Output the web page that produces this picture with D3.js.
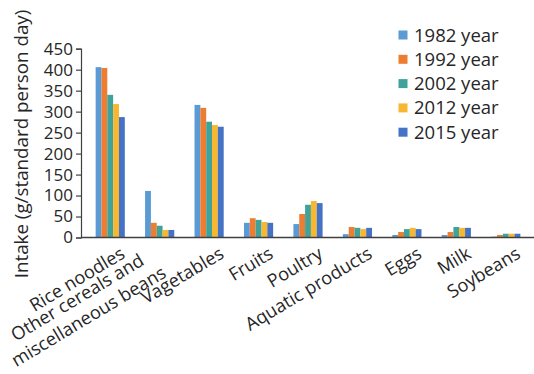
<!DOCTYPE html>
<html>
<head>
<meta charset="utf-8">
<script src="https://cdn.jsdelivr.net/npm/d3@7"></script>
<style>
  html, body { margin: 0; padding: 0; background: #fff; }
  svg { display: block; font-family: "Open Sans", sans-serif; }
</style>
</head>
<body>
<svg id="chart" width="534" height="374"></svg>
<script>
// Daily intake by food group across survey years
const categories = [
  "Rice noodles",
  "Other cereals and\nmiscellaneous beans",
  "Vagetables",
  "Fruits",
  "Poultry",
  "Aquatic products",
  "Eggs",
  "Milk",
  "Soybeans"
];
const years = ["1982 year", "1992 year", "2002 year", "2012 year", "2015 year"];
const v1982 = [406, 111, 316, 35, 32, 8, 6, 6, 2];
const v1992 = [404, 35, 309, 46, 56, 25, 13, 13, 6];
const v2002 = [340, 28, 276, 42, 78, 23, 20, 25, 9];
const v2012 = [318, 18, 268, 37, 87, 20, 23, 23, 9];
const v2015 = [287, 18, 264, 35, 82, 23, 20, 23, 9];
const yTicks = [0, 50, 100, 150, 200, 250, 300, 350, 400, 450];
const colors = ["#5B9BD5", "#ED7D31", "#3FA39B", "#F8B731", "#4472C4"];

const seriesValues = [v1982, v1992, v2002, v2012, v2015];
const rows = categories.map((c, i) => ({
  category: c,
  values: years.map((y, k) => ({ year: y, value: seriesValues[k][i] }))
}));

const svg = d3.select("#chart");
const textColor = "#262626";
const axisColor = "#404040";
const font = "'Open Sans', sans-serif";

const x0 = d3.scaleBand().domain(categories).range([85.5, 530.5])
  .paddingInner(0.41).paddingOuter(0.205);
const x1 = d3.scaleBand().domain(years).range([0, x0.bandwidth()]);
const y = d3.scaleLinear().domain([0, 450]).range([237.5, 48.7]);
const color = d3.scaleOrdinal().domain(years).range(colors);

// Bars
svg.append("g").selectAll("g").data(rows).join("g")
  .attr("transform", d => `translate(${x0(d.category)},0)`)
  .selectAll("rect").data(d => d.values).join("rect")
  .attr("x", d => x1(d.year))
  .attr("width", x1.bandwidth())
  .attr("y", d => y(d.value))
  .attr("height", d => y(0) - y(d.value))
  .attr("fill", d => color(d.year));

// Y axis
const yAxis = svg.append("g").attr("transform", "translate(81,0)")
  .call(d3.axisLeft(y).tickValues(yTicks).tickSize(5).tickPadding(3));
yAxis.select(".domain").attr("stroke", axisColor).attr("stroke-width", 1.2);
yAxis.selectAll(".tick line").attr("stroke", axisColor).attr("stroke-width", 1.2);
yAxis.selectAll(".tick text").attr("font-size", 17).attr("fill", textColor)
  .attr("font-family", font);

// X baseline
svg.append("line")
  .attr("x1", 81).attr("x2", 534)
  .attr("y1", y(0)).attr("y2", y(0))
  .attr("stroke", axisColor).attr("stroke-width", 1.4);

// Rotated category labels; multi-line labels are centred line by line
const angle = -31;
const rad = -angle * Math.PI / 180;
const cosA = Math.cos(rad), sinA = Math.sin(rad);
const lineStep = 22;
const labels = svg.append("g").attr("fill", textColor).attr("font-size", 18.2);
categories.forEach(c => {
  const lines = c.split("\n");
  const cx = x0(c) + x0.bandwidth() / 2;
  if (lines.length === 1) {
    labels.append("text")
      .attr("transform", `translate(${cx + 16},${257}) rotate(${angle})`)
      .attr("text-anchor", "end")
      .text(c);
    return;
  }
  const texts = lines.map(line => labels.append("text")
    .attr("text-anchor", "middle").text(line));
  const w = d3.max(texts, t => t.node().getComputedTextLength());
  const ex = cx - 3.5, ey = 257.5;
  texts.forEach((t, i) => {
    const px = ex + i * lineStep * sinA - (w / 2) * cosA;
    const py = ey + i * lineStep * cosA + (w / 2) * sinA;
    t.attr("transform", `translate(${px},${py}) rotate(${angle})`);
  });
});

// Y axis title
svg.append("text")
  .attr("transform", "translate(27.5,144) rotate(-90)")
  .attr("text-anchor", "middle")
  .attr("font-size", 18.8)
  .attr("fill", textColor)
  .text("Intake (g/standard person day)");

// Legend
const legend = svg.append("g").selectAll("g").data(years).join("g")
  .attr("transform", (d, i) => `translate(398.5,${35 + i * 24.3})`);
legend.append("rect")
  .attr("x", 0).attr("y", -4.5).attr("width", 9).attr("height", 9)
  .attr("fill", d => color(d));
legend.append("text")
  .attr("x", 15.5).attr("y", 6.5)
  .attr("font-size", 18.5)
  .attr("fill", textColor)
  .text(d => d);
</script>
</body>
</html>
